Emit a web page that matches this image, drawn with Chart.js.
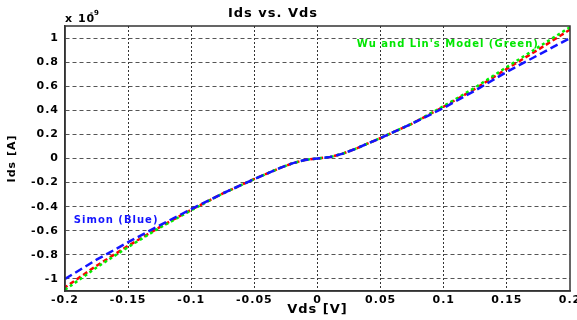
<!DOCTYPE html>
<html>
<head>
<meta charset="utf-8">
<script src="https://cdn.jsdelivr.net/npm/chart.js@4/dist/chart.umd.min.js"></script>
<style>
  html, body { margin: 0; padding: 0; background: #fff; }
  canvas { display: block; }
</style>
</head>
<body>
<canvas id="myChart" width="577" height="320"></canvas>
<script>
// Vds [V]
const vds = [-0.2, -0.175, -0.15, -0.125, -0.1, -0.075, -0.05, -0.04, -0.03, -0.02, -0.01, 0,
             0.01, 0.02, 0.03, 0.04, 0.05, 0.075, 0.1, 0.125, 0.15, 0.175, 0.2];
// Ids [A] x 1e-9
const idsRed = [-1.07, -0.89, -0.725, -0.57, -0.425, -0.29, -0.17, -0.125, -0.08, -0.04, -0.012, 0,
                0.012, 0.04, 0.08, 0.125, 0.17, 0.29, 0.43, 0.58, 0.745, 0.905, 1.07];
const idsGreen = [-1.09, -0.905, -0.735, -0.575, -0.43, -0.29, -0.17, -0.125, -0.08, -0.04, -0.012, 0,
                  0.012, 0.04, 0.08, 0.125, 0.17, 0.29, 0.435, 0.59, 0.76, 0.925, 1.09];
const idsBlue = [-1.0, -0.84, -0.695, -0.555, -0.42, -0.29, -0.17, -0.125, -0.08, -0.04, -0.012, 0,
                 0.012, 0.04, 0.08, 0.125, 0.17, 0.29, 0.42, 0.565, 0.72, 0.86, 1.0];

const xTicks = [-0.2, -0.15, -0.1, -0.05, 0, 0.05, 0.1, 0.15, 0.2];
const yTicks = [-1, -0.8, -0.6, -0.4, -0.2, 0, 0.2, 0.4, 0.6, 0.8, 1];

const notes = [
  { text: "Wu and Lin's Model (Green)", x: 0.031, y: 0.945, color: 'rgb(0,230,0)' },
  { text: 'Simon (Blue)', x: -0.193, y: -0.51, color: 'rgb(20,20,255)' }
];

const FONT = '"DejaVu Sans", sans-serif';

function pts(ys) {
  return vds.map((v, i) => ({ x: v, y: ys[i] }));
}

const spacing = {
  id: 'spacing',
  beforeUpdate(chart) { chart.ctx.letterSpacing = '1px'; },
  beforeDraw(chart) { chart.ctx.letterSpacing = '1px'; }
};

const extras = {
  id: 'extras',
  afterDraw(chart) {
    const ctx = chart.ctx;
    const a = chart.chartArea;
    const xs = chart.scales.x, ys = chart.scales.y;
    ctx.save();
    ctx.letterSpacing = '1px';
    // frame top / right
    ctx.strokeStyle = '#333';
    ctx.lineWidth = 1.5;
    ctx.strokeRect(a.left, a.top, a.right - a.left, a.bottom - a.top);

    // title
    ctx.fillStyle = '#000';
    ctx.font = 'bold 13px ' + FONT;
    ctx.textAlign = 'center';
    ctx.textBaseline = 'middle';
    ctx.fillText('Ids vs. Vds', 273, 14);

    // exponent
    ctx.textAlign = 'left';
    ctx.font = 'bold 11px ' + FONT;
    ctx.fillText('x 10', 65, 19);
    ctx.font = 'bold 7px ' + FONT;
    ctx.fillText('-9', 90, 13);

    // notes
    ctx.font = 'bold 10px ' + FONT;
    notes.forEach(n => {
      ctx.fillStyle = n.color;
      ctx.fillText(n.text, xs.getPixelForValue(n.x), ys.getPixelForValue(n.y));
    });
    ctx.restore();
  }
};

function edgeColor(ctx, c) {
  const t = ctx.tick;
  if (!t) return c;
  if (ctx.index === 0 || ctx.index === ctx.scale.ticks.length - 1) return 'rgba(0,0,0,0)';
  return c;
}

new Chart(document.getElementById('myChart').getContext('2d'), {
  type: 'line',
  data: {
    datasets: [
      {
        label: 'Simon',
        data: pts(idsBlue),
        borderColor: 'rgb(20,20,255)',
        borderWidth: 2.5,
        borderDash: [8, 4],
        pointRadius: 0,
        fill: false
      },
      {
        label: "Wu and Lin's Model",
        data: pts(idsGreen),
        borderColor: 'rgb(0,240,0)',
        borderWidth: 2.5,
        borderDash: [3, 3],
        pointRadius: 0,
        fill: false
      },
      {
        label: 'Measured',
        data: pts(idsRed),
        borderColor: 'rgb(255,0,0)',
        borderWidth: 2.5,
        borderDash: [5, 3],
        borderDashOffset: 2,
        pointRadius: 0,
        fill: false
      }
    ]
  },
  options: {
    responsive: false,
    animation: false,
    layout: { padding: { top: 26, right: 7, left: 0, bottom: 0 } },
    plugins: {
      legend: { display: false },
      title: { display: false },
      tooltip: { enabled: false }
    },
    scales: {
      x: {
        type: 'linear',
        min: -0.2,
        max: 0.2,
        afterBuildTicks: s => { s.ticks = xTicks.map(v => ({ value: v })); },
        afterFit: s => { s.height = 29; s.paddingLeft = 0; s.paddingRight = 0; },
        ticks: {
          color: '#000',
          font: { family: FONT, size: 11, weight: 'bold' },
          padding: 3,
          maxRotation: 0,
          autoSkip: false,
          callback: v => String(Math.round(v * 100) / 100)
        },
        grid: {
          color: c => edgeColor(c, '#333'),
          lineWidth: 1,
          drawTicks: false
        },
        border: { display: true, color: '#333', width: 1.5, dash: [2, 2] },
        title: {
          display: true,
          text: 'Vds [V]',
          color: '#000',
          font: { family: FONT, size: 13, weight: 'bold' },
          padding: { top: 0, bottom: 3 }
        }
      },
      y: {
        type: 'linear',
        min: -1.1,
        max: 1.1,
        afterBuildTicks: s => { s.ticks = yTicks.map(v => ({ value: v })); },
        afterFit: s => { s.width = 65; s.paddingTop = 0; s.paddingBottom = 0; },
        ticks: {
          color: '#000',
          font: { family: FONT, size: 11, weight: 'bold' },
          padding: 6,
          autoSkip: false,
          callback: v => String(Math.round(v * 10) / 10)
        },
        grid: {
          color: '#555',
          lineWidth: 1,
          drawTicks: false
        },
        border: { display: true, color: '#333', width: 1.5, dash: [4, 3] },
        title: {
          display: true,
          text: 'Ids [A]',
          color: '#000',
          font: { family: FONT, size: 11, weight: 'bold' },
          padding: { top: 6, bottom: 0 }
        }
      }
    }
  },
  plugins: [spacing, extras]
});
</script>
</body>
</html>
